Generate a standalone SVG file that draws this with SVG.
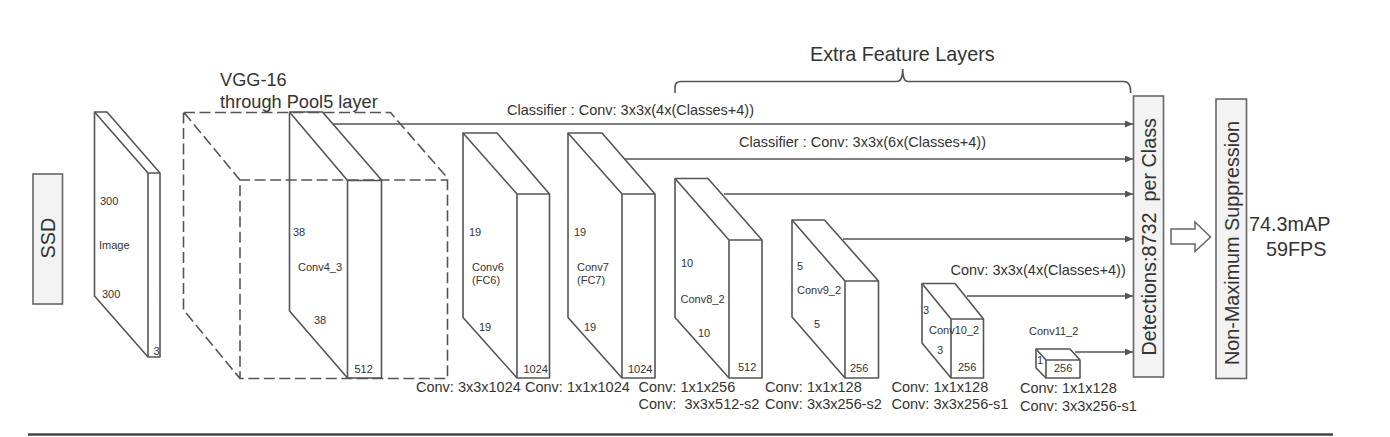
<svg xmlns="http://www.w3.org/2000/svg" width="1390" height="437" viewBox="0 0 1390 437">
<style>
text{font-family:"Liberation Sans",Arial,sans-serif;fill:#333;font-size:14.500px}
.s{font-size:11px}
.l{font-size:19.800px}
.v{font-size:18.200px}
.b{fill:#fff;stroke:#555;stroke-width:1.6;stroke-linejoin:round}
.n{fill:none;stroke:#555;stroke-width:1.6;stroke-linejoin:round}
.d{fill:none;stroke:#555;stroke-width:1.6;stroke-dasharray:11 4.500}
.g{fill:#f3f3f3;stroke:#666;stroke-width:1.6}
.c{fill:none;stroke:#555;stroke-width:1.6}
</style>
<defs>
<marker id="a" markerUnits="userSpaceOnUse" markerWidth="9" markerHeight="7" refX="8" refY="3.500" orient="auto"><path d="M0 0L8 3.500L0 7Z" fill="#555"/></marker>
</defs>
<rect width="1390" height="437" fill="#fff"/>
<g id="ssd"><rect class="g" x="33" y="174" width="29.500" height="130"/><text class="l" transform="translate(55 258.500) rotate(-90)">SSD</text></g>
<g id="image">
<path class="b" d="M94.500 112H107L160 173V357H148L94.500 296Z"/><path class="n" d="M94.500 112L148 173H160M148 173V357"/>
<text class="s" x="100" y="205">300</text><text class="s" x="99" y="249">Image</text><text class="s" x="102" y="298">300</text><text class="s" x="153.500" y="355">3</text>
</g>
<g id="vgg16">
<path class="d" d="M184 112.500H390.500L447.500 178V378.500H240V180H447.500M184 112.500L240 180M183.500 112.500V310L240 378.500"/>
<text class="v" x="220" y="86">VGG-16</text><text class="v" x="220" y="108">through Pool5 layer</text>
</g>
<g id="conv4_3">
<path class="n" d="M289.500 112H322.500L381.500 180V378H347.500L289.500 311Z"/><path class="n" d="M289.500 112L347.500 180.500H381.500M347.500 180.500V378"/>
<text class="s" x="293" y="236">38</text><text class="s" x="298" y="271">Conv4_3</text><text class="s" x="314" y="324">38</text><text class="s" x="354.500" y="373">512</text>
</g>
<g id="conv6">
<path class="b" d="M463 133H497L549.500 194V378H517L463 317.500Z"/><path class="n" d="M463 133L517 194H549.500M517 194V378"/>
<text class="s" x="469" y="236">19</text><text class="s" x="472" y="271">Conv6</text><text class="s" x="472" y="284">(FC6)</text><text class="s" x="479" y="331">19</text><text class="s" x="523.500" y="373">1024</text>
</g>
<g id="conv7">
<path class="b" d="M568 133H602L655 194V378H622L568 317.500Z"/><path class="n" d="M568 133L622 194H655M622 194V378"/>
<text class="s" x="574" y="236">19</text><text class="s" x="577" y="271">Conv7</text><text class="s" x="577" y="284">(FC7)</text><text class="s" x="584" y="331">19</text><text class="s" x="628" y="373">1024</text>
</g>
<g id="conv8_2">
<path class="b" d="M675 178.500H708L762 240V378H729L675 317.500Z"/><path class="n" d="M675 178.500L729 240H762M729 240V378"/>
<text class="s" x="681" y="267">10</text><text class="s" x="680.500" y="303">Conv8_2</text><text class="s" x="698" y="337">10</text><text class="s" x="738" y="371">512</text>
</g>
<g id="conv9_2">
<path class="b" d="M792 220H824.500L878.500 281V378H845L792 317Z"/><path class="n" d="M792 220L845 281H878.500M845 281V378"/>
<text class="s" x="797" y="270">5</text><text class="s" x="797" y="294">Conv9_2</text><text class="s" x="814" y="328">5</text><text class="s" x="850" y="372">256</text>
</g>
<g id="conv10_2">
<path class="b" d="M922 283.500H955L983.500 319V378H951L922 343Z"/><path class="n" d="M922 283.500L951 319H983.500M951 319V378"/>
<text class="s" x="923" y="314">3</text><text class="s" x="929" y="334">Conv10_2</text><text class="s" x="937" y="354">3</text><text class="s" x="958" y="371">256</text>
</g>
<g id="conv11_2">
<path class="b" d="M1036 349H1070L1080 360V378H1046L1036 368Z"/><path class="n" d="M1036 349L1046 360H1080M1046 360V378"/>
<text class="s" x="1029" y="335">Conv11_2</text><text class="s" x="1037" y="364">1</text><text class="s" x="1054" y="372">256</text>
</g>
<g id="connectors">
<path class="c" marker-end="url(#a)" d="M333 124H1133"/>
<path class="c" marker-end="url(#a)" d="M625 159H1133"/>
<path class="c" marker-end="url(#a)" d="M724 194H1133"/>
<path class="c" marker-end="url(#a)" d="M843 239H1133"/>
<path class="c" marker-end="url(#a)" d="M967 296H1133"/>
<path class="c" marker-end="url(#a)" d="M1075 352H1133"/>
<path class="c" d="M675 93V87Q675 81.500 681 81.500H897Q902.700 81.500 902.700 69Q902.700 81.500 908 81.500H1124Q1130.700 81.500 1130.700 93"/>
</g>
<g id="labels">
<text x="810" y="61" class="l">Extra Feature Layers</text>
<text x="507" y="115">Classifier : Conv: 3x3x(4x(Classes+4))</text>
<text x="739" y="147">Classifier : Conv: 3x3x(6x(Classes+4))</text>
<text x="950.500" y="275">Conv: 3x3x(4x(Classes+4))</text>
<text x="416" y="392">Conv: 3x3x1024</text><text x="525" y="392">Conv: 1x1x1024</text>
<text x="638.500" y="392">Conv: 1x1x256</text><text x="638.500" y="409" xml:space="preserve">Conv:  3x3x512-s2</text>
<text x="765" y="392">Conv: 1x1x128</text><text x="765" y="409">Conv: 3x3x256-s2</text>
<text x="891.500" y="392">Conv: 1x1x128</text><text x="891.500" y="409">Conv: 3x3x256-s1</text>
<text x="1020" y="393">Conv: 1x1x128</text><text x="1020" y="411">Conv: 3x3x256-s1</text>
</g>
<g id="detections"><rect class="g" x="1133.500" y="96" width="30" height="281"/><text class="l" transform="translate(1156 355.500) rotate(-90)" xml:space="preserve">Detections:8732  per Class</text></g>
<path id="block-arrow" d="M1171 229H1195V222L1210.500 237L1195 251.500V244H1171Z" fill="#fff" stroke="#666" stroke-width="1.500"/>
<g id="nms"><rect class="g" x="1216" y="99" width="30.500" height="279.500"/><text class="l" transform="translate(1238.500 365) rotate(-90)">Non-Maximum Suppression</text></g>
<g id="result"><text class="l" x="1249" y="230.500">74.3mAP</text><text class="l" x="1266" y="255.500">59FPS</text></g>
<path id="rule" d="M28 434.500H1333" stroke="#444" stroke-width="2.500" fill="none"/>
</svg>
